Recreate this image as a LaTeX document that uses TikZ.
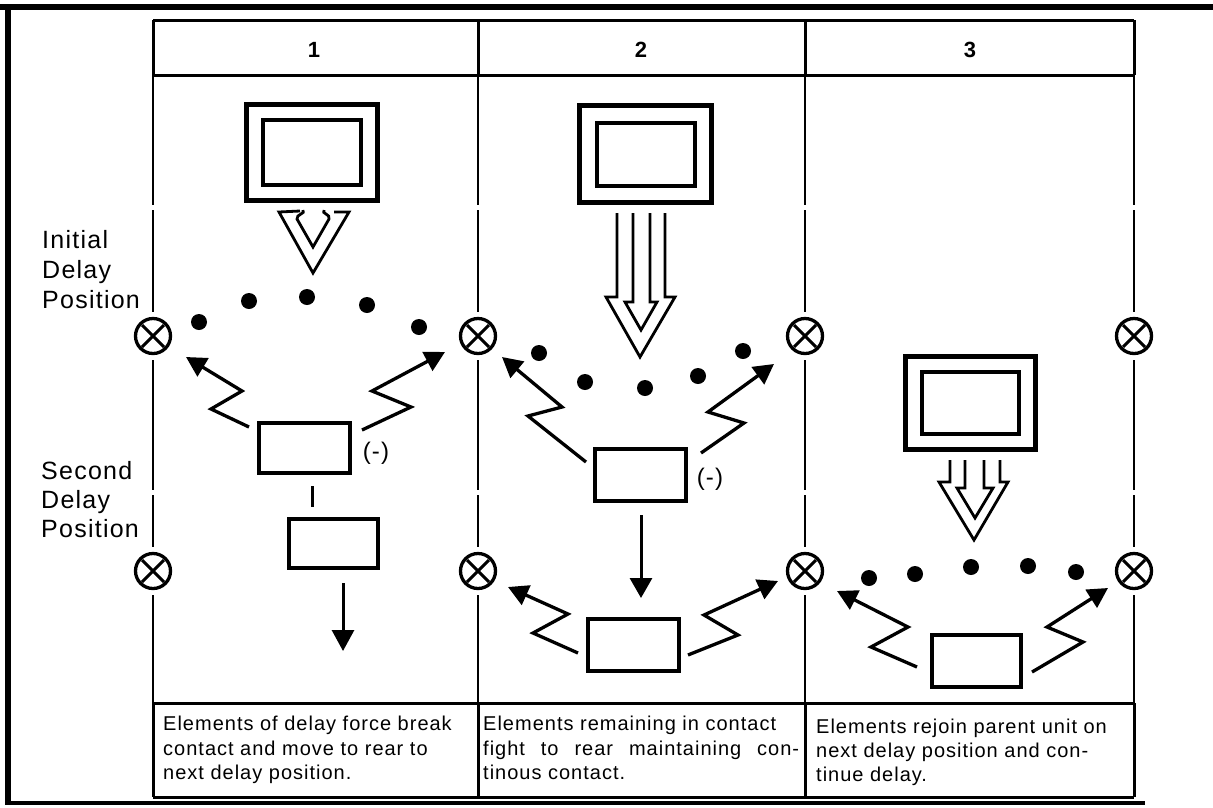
\documentclass[tikz,border=0pt]{standalone}
\usepackage{fontspec}
\setmainfont{Liberation Sans}[LetterSpace=5]
\usetikzlibrary{arrows.meta,calc}
\tikzset{
  frame/.style={line width=6pt},
  tbl/.style={line width=3pt},
  brk/.style={line width=2.8pt, dash pattern=on 130pt off 5pt},
  xnode/.style={circle, draw, line width=3.3pt, minimum size=35pt, inner sep=0pt, fill=white,
    path picture={\draw[line width=3pt]
      ([shift={(-11pt,11pt)}]path picture bounding box.center) -- ([shift={(11pt,-11pt)}]path picture bounding box.center)
      ([shift={(-11pt,-11pt)}]path picture bounding box.center) -- ([shift={(11pt,11pt)}]path picture bounding box.center);}},
  unitbox/.style={draw, line width=4pt, inner sep=0pt},
  hqout/.style={draw, line width=5pt, inner sep=0pt},
  hqin/.style={draw, line width=4pt, inner sep=0pt},
  zig/.style={line width=3.3pt, line join=miter, -{Triangle[length=20pt,width=21pt]}},
  hollow/.style={line width=2.8pt, line join=miter},
  dot/.style={fill=black},
  lbl/.style={inner sep=0pt, anchor=base west, font=\fontsize{25}{30}\selectfont},
  txt/.style={inner sep=0pt, anchor=base west, font=\fontsize{20}{24}\selectfont},
  num/.style={inner sep=0pt, anchor=base, font=\fontsize{22}{26}\selectfont\bfseries},
  minus/.style={inner sep=0pt, anchor=center, font=\fontsize{24}{28}\selectfont},
}
\begin{document}
\begin{tikzpicture}[x=1pt,y=-1pt]
\useasboundingbox (0,0) rectangle (1213,807);
% outer frame
\coordinate (ftl) at (0,7); \coordinate (ftr) at (1213,7);
\coordinate (flt) at (8,4); \coordinate (flb) at (8,805);
\coordinate (fbl) at (8,803); \coordinate (fbr) at (1145,803);
\draw[frame] (ftl) -- (ftr);
\draw[frame] (flt) -- (flb);
\draw[line width=4.5pt] (fbl) -- (fbr);

% table coordinates
\foreach \n/\x in {0/153,1/478,2/805,3/1134}{
  \coordinate (top\n) at (\x,20);
  \coordinate (hb\n) at (\x,75);
  \coordinate (tb\n) at (\x,703);
  \coordinate (bot\n) at (\x,797);
}
% header and text box
\draw[tbl] (top0) -- (top3);
\draw[tbl] (hb0) -- (hb3);
\draw[tbl] (tb0) -- (tb3);
\draw[tbl] (bot0) -- (bot3);
\foreach \n in {0,1,2,3}{
  \draw[tbl] (top\n) -- (hb\n);
  \draw[tbl] (tb\n) -- (bot\n);
}
% delay position symbols
\foreach \n/\x in {0/153,1/478,2/805,3/1134}{
  \node[xnode] (xa\n) at (\x,336) {};
  \node[xnode] (xb\n) at (\x,571) {};
  \draw[brk] (hb\n) -- ($(xa\n.north)+(0,-5)$);
  \draw[brk] ($(xa\n.south)+(0,5)$) -- ($(xb\n.north)+(0,-5)$);
  \draw[brk] ($(xb\n.south)+(0,5)$) -- (tb\n);
}

% header numbers
\node[num] (n1) at (314,57) {1};
\node[num] (n2) at (641,57) {2};
\node[num] (n3) at (970,57) {3};

% row labels
\node[lbl] (ia) at (42,248) {Initial};
\node[lbl] (ib) at (42,278) {Delay};
\node[lbl] (ic) at (42,308) {Position};
\node[lbl] (sa) at (41,479) {Second};
\node[lbl] (sb) at (41,508) {Delay};
\node[lbl] (sc) at (41,537) {Position};

% ---------- column 1 ----------
\node[hqout, minimum width=131pt, minimum height=96pt] (hq1o) at (312,152.5) {};
\node[hqin, minimum width=98pt, minimum height=65pt] (hq1i) at (312,152.5) {};
\draw[hollow] (300,211) -- (279,212) -- (313,273) -- (349,212) -- (334,212);
\draw[hollow] (303,210) .. controls (306,214) and (296,214) .. (297,219) -- (313,247) -- (329,219) .. controls (331,214) and (321,214) .. (324,210);
\foreach \x/\y in {199/322,249/301,307/297,367/305,419/327}
  \fill[dot] (\x,\y) circle[radius=8pt];
\node[unitbox, minimum width=91pt, minimum height=50pt] (u1a) at (304.5,448) {};
\node[minus] (m1) at (376,453) {(-)};
\node[unitbox, minimum width=89pt, minimum height=49pt] (u1b) at (333.5,543.5) {};
\coordinate (l1s) at (312,486); \coordinate (l1e) at (312,507);
\draw[line width=3pt] (l1s) -- (l1e);
\coordinate (d1s) at (343,583); \coordinate (d1e) at (343,651);
\draw[line width=3pt, -{Triangle[length=21pt,width=22pt]}] (d1s) -- (d1e);
\draw[zig] (249,427) -- (211,409) -- (242,391) -- (186,357);
\draw[zig] (362,430) -- (411,407) -- (372,391) -- (445,352);

% ---------- column 2 ----------
\node[hqout, minimum width=132pt, minimum height=97pt] (hq2o) at (645.5,154) {};
\node[hqin, minimum width=98pt, minimum height=63pt] (hq2i) at (646,154.5) {};
\draw[hollow] (617,213) -- (617,297) -- (606,297) -- (640,357) -- (675,297) -- (665,297) -- (665,213);
\draw[hollow] (633,213) -- (633,302) -- (625,302) -- (641,330) -- (657,302) -- (650,302) -- (650,213);
\foreach \x/\y in {539/353,585/382,645/388,698/376,743/351}
  \fill[dot] (\x,\y) circle[radius=8pt];
\node[unitbox, minimum width=91pt, minimum height=52pt] (u2a) at (640.5,475) {};
\node[minus] (m2) at (710,479) {(-)};
\node[unitbox, minimum width=91pt, minimum height=52pt] (u2b) at (633.5,645) {};
\coordinate (d2s) at (641,515); \coordinate (d2e) at (641,598);
\draw[line width=3pt, -{Triangle[length=20pt,width=22pt]}] (d2s) -- (d2e);
\draw[zig] (586,462) -- (528,416) -- (562,407) -- (502,357);
\draw[zig] (701,453) -- (744,423) -- (708,412) -- (774,364);
\draw[zig] (578,653) -- (533,633) -- (568,614) -- (508,587);
\draw[zig] (688,655) -- (738,635) -- (704,615) -- (778,581);

% ---------- column 3 ----------
\node[hqout, minimum width=130pt, minimum height=93pt] (hq3o) at (970.5,403) {};
\node[hqin, minimum width=97pt, minimum height=62pt] (hq3i) at (970.5,403) {};
\draw[hollow] (950,460) -- (950,482) -- (939,482) -- (974,540) -- (1008,482) -- (1000,482) -- (1000,460);
\draw[hollow] (965,460) -- (965,488) -- (957,488) -- (975,518) -- (993,488) -- (984,488) -- (984,460);
\foreach \x/\y in {869/578,915/574,971/567,1028/566,1076/572}
  \fill[dot] (\x,\y) circle[radius=8pt];
\node[unitbox, minimum width=89pt, minimum height=52pt] (u3) at (976.5,661) {};
\draw[zig] (917,667) -- (871,647) -- (908,627) -- (837,591);
\draw[zig] (1032,672) -- (1083,642) -- (1047,627) -- (1108,588);

% ---------- bottom texts ----------
\node[txt] (t1a) at (163,730) {Elements of delay force break};
\node[txt] (t1b) at (163,755) {contact and move to rear to};
\node[txt] (t1c) at (163,779) {next delay position.};
\node[txt] (t2a) at (483,730) {Elements remaining in contact};
\node[txt] (t2b) at (483,755) {\makebox[316pt][s]{fight to rear maintaining con-}};
\node[txt] (t2c) at (483,779) {tinous contact.};
\node[txt] (t3a) at (816,733) {Elements rejoin parent unit on};
\node[txt] (t3b) at (816,757) {next delay position and con-};
\node[txt] (t3c) at (816,781) {tinue delay.};
\end{tikzpicture}
\end{document}
